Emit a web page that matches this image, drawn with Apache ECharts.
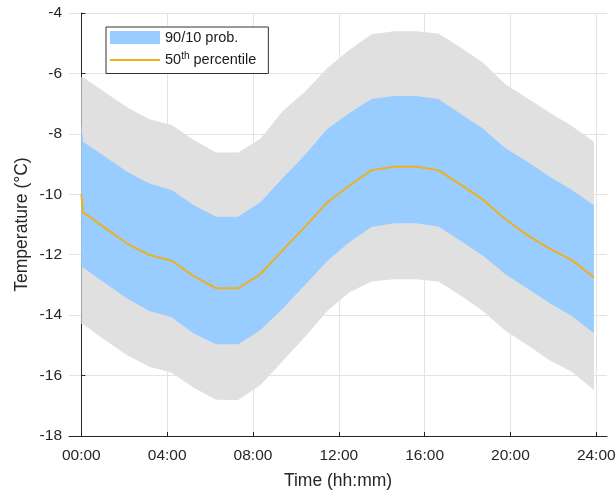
<!DOCTYPE html>
<html>
<head>
<meta charset="utf-8">
<script src="https://cdn.jsdelivr.net/npm/echarts@6/dist/echarts.min.js"></script>
<style>
  html, body { margin: 0; padding: 0; background: #fff; overflow: hidden; }
  #chart { width: 616px; height: 491px; }
</style>
</head>
<body>
<div id="chart"></div>
<script>
// Sample times in hours after midnight
const hours = [0, 0.08, 1.1, 2.13, 3.17, 4.21, 5.24, 6.28, 7.31, 8.35, 9.39, 10.42,
  11.46, 12.5, 13.53, 14.57, 15.6, 16.64, 17.68, 18.71, 19.75, 20.79, 21.82, 22.86, 23.89];

// Outer envelope (grey band)
const outerHi = [-6.11, -6.13, -6.62, -7.12, -7.52, -7.71, -8.20, -8.62, -8.62, -8.16, -7.24, -6.61,
  -5.83, -5.22, -4.70, -4.60, -4.60, -4.68, -5.14, -5.64, -6.35, -6.82, -7.29, -7.74, -8.26];
const outerLo = [-14.29, -14.30, -14.82, -15.33, -15.71, -15.91, -16.40, -16.80, -16.81, -16.31, -15.52, -14.72,
  -13.86, -13.24, -12.89, -12.81, -12.81, -12.89, -13.35, -13.86, -14.51, -14.99, -15.49, -15.87, -16.48];

// 90th / 10th percentile band
const p90 = [-7.65, -8.26, -8.75, -9.25, -9.64, -9.86, -10.36, -10.74, -10.74, -10.26, -9.46, -8.70,
  -7.84, -7.31, -6.85, -6.75, -6.75, -6.85, -7.34, -7.82, -8.47, -8.92, -9.41, -9.86, -10.36];
const p10 = [-12.40, -12.42, -12.94, -13.45, -13.86, -14.07, -14.61, -14.96, -14.96, -14.49, -13.78, -13.00,
  -12.21, -11.58, -11.08, -10.96, -10.96, -11.07, -11.55, -12.03, -12.64, -13.12, -13.60, -14.03, -14.60];

// Median
const p50 = [-10.00, -10.59, -11.11, -11.63, -12.01, -12.20, -12.71, -13.11, -13.11, -12.64, -11.85, -11.08,
  -10.27, -9.71, -9.20, -9.09, -9.09, -9.20, -9.68, -10.17, -10.82, -11.35, -11.80, -12.18, -12.75];

// Axis ticks
const xTicks = [0, 4, 8, 12, 16, 20, 24];

const AXIS = '#262626';
const FONT = '"Liberation Sans", Arial, Helvetica, sans-serif';

function bandSeries(name, hi, lo, color, z) {
  return {
    name: name,
    type: 'custom',
    z: z,
    silent: true,
    itemStyle: { color: color },
    data: [[hours[0], hi[0]]],
    renderItem: function (params, api) {
      const pts = [];
      for (let i = 0; i < hours.length; i++) pts.push(api.coord([hours[i], hi[i]]));
      for (let i = hours.length - 1; i >= 0; i--) pts.push(api.coord([hours[i], lo[i]]));
      return { type: 'polygon', shape: { points: pts }, style: { fill: color, stroke: null } };
    }
  };
}

const chart = echarts.init(document.getElementById('chart'), null, { renderer: 'canvas', width: 616, height: 491 });
chart.setOption({
  animation: false,
  backgroundColor: '#fff',
  textStyle: { fontFamily: FONT },
  grid: { left: 69, right: 9, top: 13, bottom: 55, containLabel: false, outerBoundsMode: 'none' },
  legend: {
    left: 106,
    top: 27,
    orient: 'vertical',
    itemWidth: 50,
    itemHeight: 13,
    itemGap: 6,
    padding: [3, 12, 6, 4],
    backgroundColor: '#fff',
    borderColor: '#333',
    borderWidth: 1,
    borderRadius: 0,
    data: [
      { name: '90/10 prob.', icon: 'rect' },
      { name: '50th percentile', icon: 'path://M0,0 L50,0 L50,2 L0,2 Z' }
    ],
    formatter: function (name) {
      return name === '50th percentile' ? '50{sup|th} percentile' : name;
    },
    textStyle: {
      fontFamily: FONT, fontSize: 14.5, color: '#1a1a1a',
      rich: { sup: { fontFamily: FONT, fontSize: 10, color: '#1a1a1a', verticalAlign: 'bottom', padding: [0, 0, 8, 0] } }
    }
  },
  xAxis: {
    type: 'value',
    min: -0.575,
    max: 24.5,
    name: 'Time (hh:mm)',
    nameLocation: 'middle',
    nameGap: 36,
    nameTextStyle: { fontFamily: FONT, fontSize: 17.5, color: AXIS },
    axisLine: { show: true, lineStyle: { color: AXIS, width: 1 } },
    axisTick: { show: true, inside: true, length: 4, customValues: xTicks, lineStyle: { color: AXIS } },
    axisLabel: {
      customValues: xTicks, margin: 12, fontSize: 15.5, color: AXIS, fontFamily: FONT,
      formatter: function (v) { return String(Math.round(v)).padStart(2, '0') + ':00'; }
    },
    splitLine: { show: true, lineStyle: { color: '#e3e3e3', width: 1 } }
  },
  yAxis: {
    type: 'value',
    min: -18,
    max: -4,
    interval: 2,
    name: 'Temperature (°C)',
    nameLocation: 'middle',
    nameGap: 38,
    nameMoveOverlap: false,
    nameTextStyle: { fontFamily: FONT, fontSize: 17.5, color: AXIS },
    axisLine: { show: true, lineStyle: { color: AXIS, width: 1 } },
    axisTick: { show: true, inside: true, length: 4, lineStyle: { color: AXIS } },
    axisLabel: { margin: 7, fontSize: 15.5, color: AXIS, fontFamily: FONT },
    splitLine: { show: true, lineStyle: { color: '#e3e3e3', width: 1 } }
  },
  series: [
    bandSeries('outer', outerHi, outerLo, '#e0e0e0', 1),
    bandSeries('90/10 prob.', p90, p10, '#99ccff', 2),
    {
      name: '50th percentile',
      type: 'line',
      z: 3,
      symbol: 'none',
      data: hours.map(function (t, i) { return [t, p50[i]]; }),
      lineStyle: { color: '#edb120', width: 2 },
      itemStyle: { color: '#edb120' }
    }
  ]
});
</script>
</body>
</html>
